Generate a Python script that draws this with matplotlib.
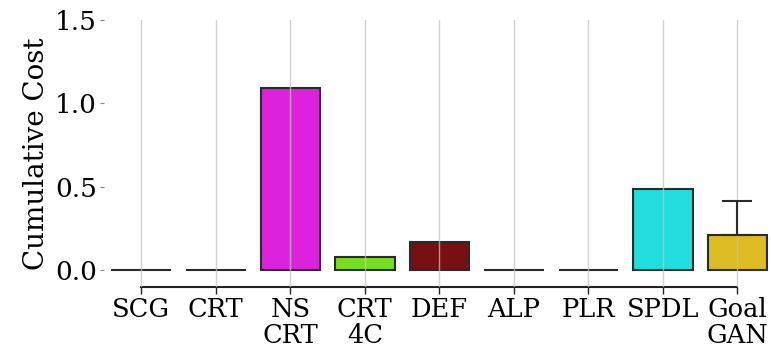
import matplotlib
matplotlib.use("Agg")
import matplotlib.pyplot as plt
import numpy as np

# Cumulative cost per curriculum method
methods = ["SCG", "CRT", "NS\nCRT", "CRT\n4C", "DEF", "ALP", "PLR", "SPDL", "Goal\nGAN"]
costs = [0.0, 0.0, 1.09, 0.08, 0.17, 0.0, 0.0, 0.49, 0.21]
err_upper = [0.0, 0.0, 0.0, 0.0, 0.0, 0.0, 0.0, 0.0, 0.205]
colors = ["#dd22dd", "#dd22dd", "#dd22dd", "#77dd22", "#771111",
          "#dd22dd", "#dd22dd", "#22dddd", "#ddbb22"]
y_ticks = [0.0, 0.5, 1.0, 1.5]

plt.rcParams["font.family"] = "DejaVu Serif"

fig = plt.figure(figsize=(7.71, 3.48), dpi=100)
ax = fig.add_axes([104 / 771, (348 - 287) / 348, (771 - 104) / 771, (287 - 20) / 348])

x = np.arange(len(methods))
ax.bar(x, costs, width=0.8, color=colors, edgecolor="#2a2a2a", linewidth=1.5, zorder=1)

# one-sided error bar (upper only)
yerr = np.array([np.zeros(len(costs)), err_upper])
mask = np.array(err_upper) > 0
ax.errorbar(x[mask], np.array(costs)[mask], yerr=yerr[:, mask], fmt="none",
            ecolor="#2a2a2a", elinewidth=1.5, capsize=11, capthick=1.5, zorder=3)

ax.set_xlim(-0.5, 8.45)
ax.set_ylim(-0.1, 1.5)
ax.set_xticks(x)
ax.set_xticklabels(methods, fontsize=18.5, linespacing=1.05)
ax.set_yticks(y_ticks)
ax.set_yticklabels([f"{v:.1f}" for v in y_ticks], fontsize=19)
ax.set_ylabel("Cumulative Cost", fontsize=20, labelpad=4)

ax.xaxis.grid(True, color="#c4c4c4", linewidth=1.0, alpha=0.75, zorder=2)
ax.set_axisbelow(False)
ax.yaxis.grid(False)

for s in ["top", "right", "left"]:
    ax.spines[s].set_visible(False)
ax.spines["bottom"].set_bounds(0, 8)
ax.spines["bottom"].set_color("#222222")
ax.spines["bottom"].set_linewidth(1.5)

ax.tick_params(axis="y", length=3, width=0.8, color="#888888", pad=2)
ax.tick_params(axis="x", length=5, width=1.0, color="#222222", pad=2)

fig.savefig("out.png", dpi=100)
